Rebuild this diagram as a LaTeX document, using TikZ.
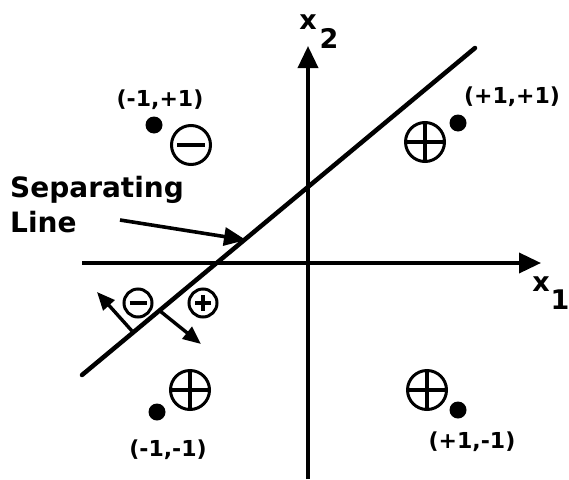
\documentclass[tikz,border=0pt]{standalone}
\usepackage{fontspec}
\setmainfont{DejaVu Sans}
\usetikzlibrary{arrows.meta}

\begin{document}
\begin{tikzpicture}[
    x=1pt, y=-1pt,
    axis/.style={
        line width=3.6pt,
        -{Triangle[length=22pt,width=20pt]}
    },
    sepline/.style={
        line width=4.5pt,
        line cap=round
    },
    arr/.style={
        line width=3.6pt,
        -{Triangle[length=22pt,width=18pt]}
    },
    smallarr/.style={
        line width=3.4pt,
        -{Triangle[length=18pt,width=15pt]}
    },
    bigsign/.style={
        circle,
        draw,
        line width=3pt,
        minimum size=39pt,
        inner sep=0pt
    },
    smallsign/.style={
        circle,
        draw,
        line width=3pt,
        minimum size=28pt,
        inner sep=0pt
    },
    bar/.style={
        line width=3.5pt
    },
    dot/.style={
        circle,
        fill,
        minimum size=17pt,
        inner sep=0pt
    },
    lbl/.style={
        font=\bfseries\fontsize{22}{26}\selectfont,
        inner sep=0pt
    },
    axlbl/.style={
        font=\bfseries\fontsize{27}{30}\selectfont,
        inner sep=0pt
    }
]

\useasboundingbox (0,0) rectangle (569,479);

% ============================================================
% Axes
% ============================================================

\coordinate (hstart) at (82,263);
\coordinate (hend) at (541,263);
\coordinate (vstart) at (308,479);
\coordinate (vend) at (308,46);

\draw[axis] (hstart) -- (hend);
\draw[axis] (vstart) -- (vend);

\node[axlbl] (xtwo) at (308,22)
{x};
\node[axlbl] (xtwosub) at (329,38)
{2};

\node[axlbl] (xone) at (541,284)
{x};
\node[axlbl] (xonesub) at (560,300)
{1};


% ============================================================
% Separating line
% ============================================================

\coordinate (sepa) at (82,375);
\coordinate (sepb) at (475,48);

\draw[sepline] (sepa) -- (sepb);

\node[font=\bfseries\fontsize{28}{35}\selectfont, align=left,
      anchor=west, inner sep=0pt] (seplbl) at (10,205)
{Separating\\Line};

\coordinate (sepfrom) at (120,220);
\coordinate (septo) at (246,240);

\draw[arr] (sepfrom) -- (septo);

% normal arrows
\coordinate (mbase) at (132,331);
\coordinate (mtip) at (97,292);
\coordinate (pbase) at (160,311);
\coordinate (ptip) at (201,344);

\draw[smallarr] (mbase) -- (mtip);
\draw[smallarr] (pbase) -- (ptip);

\node[smallsign] (msmall) at (138,303) {};
\draw[bar, shorten <=7pt, shorten >=7pt] (msmall.west) -- (msmall.east);

\node[smallsign] (psmall) at (203,303) {};
\draw[bar, shorten <=7.5pt, shorten >=7.5pt] (psmall.west) -- (psmall.east);
\draw[bar, shorten <=7.5pt, shorten >=7.5pt] (psmall.north) -- (psmall.south);


% ============================================================
% Points
% ============================================================

% (-1,+1)
\node[dot] (mpdot) at (154,125) {};
\node[lbl] (mplbl) at (160,100)
{(-1,+1)};
\node[bigsign] (mpsign) at (191,145) {};
\draw[bar, shorten <=7pt, shorten >=7pt] (mpsign.west) -- (mpsign.east);

% (+1,+1)
\node[dot] (ppdot) at (458,123) {};
\node[lbl] (pplbl) at (512,97)
{(+1,+1)};
\node[bigsign] (ppsign) at (425,142) {};
\draw[bar, shorten <=1pt, shorten >=1pt] (ppsign.west) -- (ppsign.east);
\draw[bar, shorten <=1pt, shorten >=1pt] (ppsign.north) -- (ppsign.south);

% (-1,-1)
\node[dot] (mmdot) at (157,412) {};
\node[lbl] (mmlbl) at (168,450)
{(-1,-1)};
\node[bigsign] (mmsign) at (190,390) {};
\draw[bar, shorten <=1pt, shorten >=1pt] (mmsign.west) -- (mmsign.east);
\draw[bar, shorten <=1pt, shorten >=1pt] (mmsign.north) -- (mmsign.south);

% (+1,-1)
\node[dot] (pmdot) at (458,410) {};
\node[lbl] (pmlbl) at (472,442)
{(+1,-1)};
\node[bigsign] (pmsign) at (427,390) {};
\draw[bar, shorten <=1pt, shorten >=1pt] (pmsign.west) -- (pmsign.east);
\draw[bar, shorten <=1pt, shorten >=1pt] (pmsign.north) -- (pmsign.south);

\end{tikzpicture}
\end{document}
